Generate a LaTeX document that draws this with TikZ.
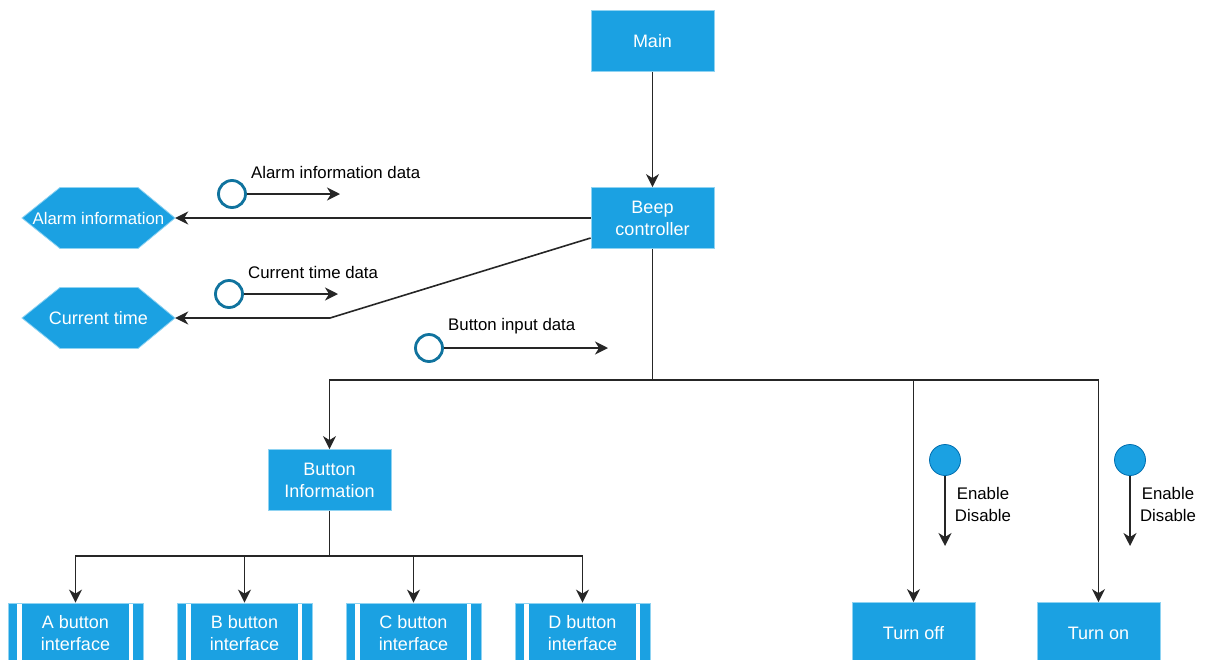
\documentclass[tikz,border=0pt]{standalone}
\usepackage{fontspec}
\setmainfont{Liberation Sans}
\usetikzlibrary{arrows.meta}
\definecolor{boxblue}{HTML}{1BA1E2}
\definecolor{rimblue}{HTML}{8FD3F2}
\definecolor{ringblue}{HTML}{10739E}
\definecolor{dotline}{HTML}{006EAF}

\begin{document}
\begin{tikzpicture}[x=1pt,y=-1pt,
        box/.style={fill=boxblue,draw=rimblue,line width=.8pt,text=white,align=center,
            minimum width=123pt,minimum height=61pt,inner sep=2pt,font=\fontsize{18}{22}\selectfont},
        ifbox/.style={box,minimum width=135pt,minimum height=60pt,
            path picture={\draw[white,line width=4.5pt]
                ([xshift=11.5pt]path picture bounding box.north west) -- ([xshift=11.5pt]path picture bounding box.south west)
                ([xshift=-12pt]path picture bounding box.north east) -- ([xshift=-12pt]path picture bounding box.south east);}},
        hexbox/.style={text=white,minimum width=153pt,minimum height=61pt,inner sep=0pt},
        ring/.style={circle,draw=ringblue,line width=2.8pt,fill=white,minimum size=27pt,inner sep=0pt},
        dot/.style={circle,draw=dotline,fill=boxblue,line width=.8pt,minimum size=31pt,inner sep=0pt},
        conn/.style={draw=black!85,line width=1.6pt},
        arr/.style={conn,-{Stealth[length=13pt,width=13pt,inset=4pt]}},
        lbl/.style={font=\fontsize{16.8}{22}\selectfont,inner sep=0pt}]
    \useasboundingbox (0,0) rectangle (1207,659);

    % hexagon backgrounds
    \foreach \y in {218,318}
        \filldraw[fill=boxblue,draw=rimblue,line width=.8pt] (22,\y) -- (60,\y-30.5) -- (138,\y-30.5)
            -- (175,\y) -- (138,\y+30.5) -- (60,\y+30.5) -- cycle;

    \node[box] (main) at (652.5,41) {Main};
    \node[box] (beep) at (652.5,218) {Beep\\controller};
    \node[hexbox,font=\fontsize{16.8}{20}\selectfont] (alarm) at (98.5,218) {Alarm information};
    \node[hexbox,font=\fontsize{18}{22}\selectfont] (ctime) at (98.5,318) {Current time};
    \node[box] (binfo) at (329.5,480) {Button\\Information};
    \node[box] (off) at (913.5,633) {Turn off};
    \node[box] (on) at (1098.5,633) {Turn on};
    \foreach \ltr/\x in {A/75.5,B/244.5,C/413.5,D/582.5}
        \node[ifbox] (if\ltr) at (\x,633) {\ltr{} button\\interface};

    \draw[arr] (main) -- (beep);
    \draw[arr] (beep.west) -- (alarm.east);
    \coordinate (ctbend) at (330,318);
    \draw[arr] ([yshift=-20pt]beep.west) -- (ctbend) -- (ctime.east);

    % tree below the controller
    \coordinate (split) at (652.5,380);
    \draw[conn] (beep) -- (split);
    \foreach \n in {binfo,off,on}
        \draw[arr] (split) -| (\n.north);
    \coordinate (bsplit) at (329.5,556);
    \draw[conn] (binfo) -- (bsplit);
    \foreach \ltr in {A,B,C,D}
        \draw[arr] (bsplit) -| (if\ltr.north);

    % data flows
    \foreach \name/\x/\y/\tx/\txt in {alarmdata/232/194/340/Alarm information data,
                                      timedata/229/294/338/Current time data,
                                      buttondata/429/348/608/Button input data} {
        \node[ring] (\name) at (\x,\y) {};
        \coordinate (\name tip) at (\tx,\y);
        \draw[arr] (\name) -- (\name tip);
        \node[lbl,anchor=west] (\name lbl) at (\x+19,\y-22) {\txt};
    }
    \foreach \name/\x in {offflag/945,onflag/1130} {
        \node[dot] (\name) at (\x,460) {};
        \coordinate (\name tip) at (\x,546);
        \draw[arr] (\name) -- (\name tip);
        \node[lbl,align=center] (\name lbl) at (\x+38,504) {Enable\\Disable};
    }
\end{tikzpicture}
\end{document}
